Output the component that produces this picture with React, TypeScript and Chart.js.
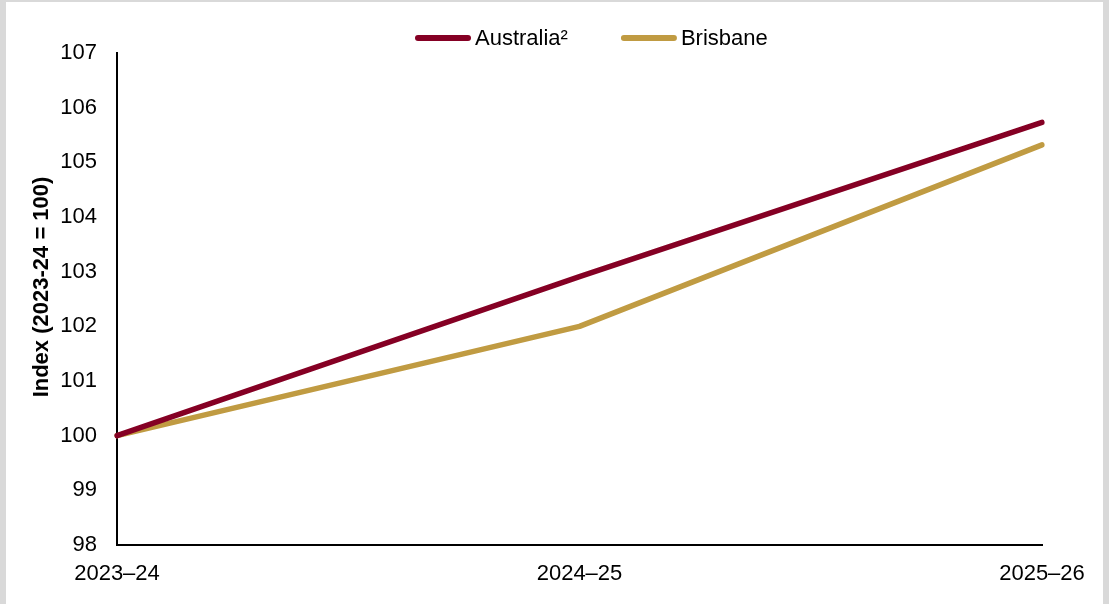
import React, { useEffect, useRef } from "react";
import { Chart, registerables } from "chart.js";

Chart.register(...registerables);

// Financial years on the x axis
const years = ["2023–24", "2024–25", "2025–26"];
// Index values (2023-24 = 100)
const australia = [100, 102.91, 105.73];
const brisbane = [100, 102.0, 105.32];
// Y axis range
const yMin = 98;
const yMax = 107;

const seriesLabels = ["Australia²", "Brisbane"];
const seriesColors = ["#850024", "#c09b42"];

const FONT = "'Liberation Sans', Arial, Helvetica, sans-serif";
const axisTitle = "Index (2023-24 = 100)";

// Line legend centred above the plot
const lineLegend = {
  id: "lineLegend",
  afterDraw(chart: any) {
    const ctx = chart.ctx as CanvasRenderingContext2D;
    const sample = 50;
    const gapText = 7;
    const gapItem = 56;
    const y = 36;
    ctx.save();
    ctx.font = `22px ${FONT}`;
    ctx.textBaseline = "middle";
    ctx.textAlign = "left";
    let x = 412;
    chart.data.datasets.forEach((ds: any) => {
      ctx.strokeStyle = ds.borderColor;
      ctx.lineWidth = 6;
      ctx.lineCap = "round";
      ctx.beginPath();
      ctx.moveTo(x, y);
      ctx.lineTo(x + sample, y);
      ctx.stroke();
      ctx.fillStyle = "#000";
      const tx = x + sample + gapText;
      ctx.fillText(ds.label, tx, y + 1);
      x = tx + ctx.measureText(ds.label).width + gapItem;
    });
    ctx.restore();
  },
};

// Rotated y axis title
const yTitle = {
  id: "yTitle",
  afterDraw(chart: any) {
    const ctx = chart.ctx as CanvasRenderingContext2D;
    const area = chart.chartArea;
    ctx.save();
    ctx.font = `bold 22px ${FONT}`;
    ctx.fillStyle = "#000";
    ctx.textAlign = "center";
    ctx.textBaseline = "middle";
    ctx.translate(36, (area.top + area.bottom) / 2 - 12);
    ctx.rotate(-Math.PI / 2);
    ctx.fillText(axisTitle, 0, 0);
    ctx.restore();
  },
};

function LineChart() {
  const ref = useRef<HTMLCanvasElement | null>(null);

  useEffect(() => {
    if (!ref.current) return;
    const chart = new Chart(ref.current, {
      type: "line",
      data: {
        labels: years,
        datasets: [
          {
            label: seriesLabels[0],
            data: australia,
            borderColor: seriesColors[0],
            backgroundColor: seriesColors[0],
            borderWidth: 5.5,
            borderCapStyle: "round",
            borderJoinStyle: "round",
            pointRadius: 0,
            tension: 0,
          },
          {
            label: seriesLabels[1],
            data: brisbane,
            borderColor: seriesColors[1],
            backgroundColor: seriesColors[1],
            borderWidth: 5.5,
            borderCapStyle: "round",
            borderJoinStyle: "round",
            pointRadius: 0,
            tension: 0,
          },
        ],
      },
      options: {
        responsive: false,
        animation: false,
        layout: { padding: { left: 0, right: 61, top: 51, bottom: 0 } },
        plugins: {
          legend: { display: false },
          tooltip: { enabled: false },
        },
        scales: {
          x: {
            type: "category",
            offset: false,
            grid: { display: false, drawTicks: false },
            border: { display: true, color: "#000", width: 2 },
            ticks: {
              color: "#000",
              font: { family: FONT, size: 22 },
              padding: 16,
              maxRotation: 0,
              autoSkip: false,
            },
            afterFit(scale: any) {
              scale.height = 59;
            },
          },
          y: {
            min: yMin,
            max: yMax,
            grid: { display: false, drawTicks: false },
            border: { display: true, color: "#000", width: 2 },
            ticks: {
              stepSize: 1,
              color: "#000",
              font: { family: FONT, size: 22 },
              padding: 20,
            },
            afterFit(scale: any) {
              scale.width = 111;
            },
          },
        },
      },
      plugins: [lineLegend, yTitle],
    });
    return () => chart.destroy();
  }, []);

  return <canvas ref={ref} width={1097} height={602} style={{ display: "block" }} />;
}

export default function App() {
  return (
    <div
      style={{
        position: "absolute",
        left: 0,
        top: 0,
        width: 1109,
        height: 604,
        background: "#d9d9d9",
      }}
    >
      <div
        style={{
          position: "absolute",
          left: 6,
          top: 2,
          width: 1097,
          height: 602,
          background: "#ffffff",
        }}
      >
        <LineChart />
      </div>
    </div>
  );
}
